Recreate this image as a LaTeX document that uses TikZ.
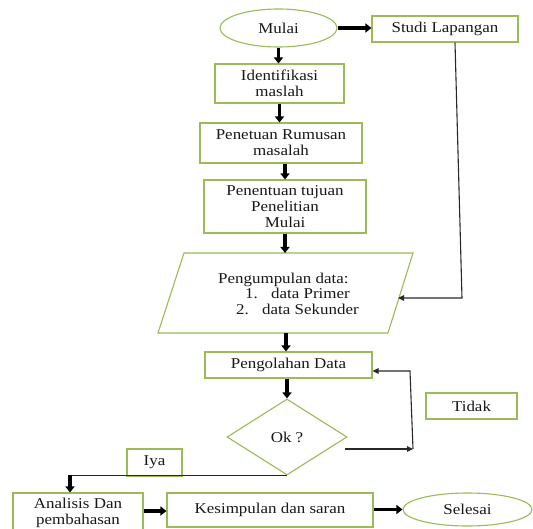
\documentclass[tikz,border=0pt]{standalone}
\usepackage{fontspec}
\setmainfont[FakeStretch=1.13]{Liberation Serif}
\usetikzlibrary{shapes.geometric,arrows.meta}
\definecolor{boxgreen}{RGB}{155,187,89}
\definecolor{linegray}{RGB}{40,40,40}
\definecolor{textdark}{RGB}{25,25,25}
\begin{document}
\begin{tikzpicture}[x=1pt,y=-1pt,
  every node/.style={font=\fontsize{15}{16}\selectfont, align=center, inner sep=0pt, text=textdark},
  gbox/.style={draw=boxgreen, line width=1.1pt, rectangle},
  gell/.style={draw=boxgreen, line width=1.1pt, ellipse},
  gdia/.style={draw=boxgreen, line width=1.1pt, diamond},
  bigarrow/.style={line width=3.5pt, draw=black, -{Triangle[width=9pt,length=6pt]}},
  thinarrow/.style={line width=1.1pt, draw=linegray, -{Triangle[width=5.5pt,length=6pt]}},
  thinline/.style={line width=1.1pt, draw=linegray},
]
\fill[white] (0,0) rectangle (533,529);
\clip (0,0) rectangle (533,529);

% nodes
\node[gell, minimum width=117, minimum height=38] (mulai) at (278.5,28) {Mulai};
\node[gbox, minimum width=146, minimum height=26] (studi) at (445,29) {Studi Lapangan};
\node[gbox, minimum width=129, minimum height=39] (ident) at (279.5,83.5) {Identifikasi\\maslah};
\node[gbox, minimum width=162, minimum height=40] (rumus) at (281,143) {Penetuan Rumusan\\masalah};
\node[gbox, minimum width=162, minimum height=53] (tujuan) at (285,206.5) {Penentuan tujuan\\Penelitian\\Mulai};

% parallelogram
\draw[draw=boxgreen, line width=1.1pt] (184,253) -- (413,253) -- (388,333) -- (158,333) -- cycle;
\coordinate (kumpulN) at (286,253);
\coordinate (kumpulS) at (286,333);
\coordinate (kumpulE) at (398,298);
\node[anchor=base west] (t1) at (218,284) {Pengumpulan data:};
\node[anchor=base west] (t2a) at (245,299) {1.};
\node[anchor=base west] (t2b) at (271,299) {data Primer};
\node[anchor=base west] (t3a) at (236,315) {2.};
\node[anchor=base west] (t3b) at (262,315) {data Sekunder};

\node[gbox, minimum width=167, minimum height=26] (peng) at (288.5,365) {Pengolahan Data};
\node[gdia, minimum width=120, minimum height=76] (ok) at (287,437) {Ok ?};
\node[gbox, minimum width=91, minimum height=26] (tidak) at (471.5,406) {Tidak};
\node[gbox, minimum width=55, minimum height=27] (iya) at (154.5,462.5) {Iya};
\node[gbox, minimum width=130, minimum height=40] (anal) at (78,513) {Analisis Dan\\pembahasan};
\node[gbox, minimum width=206, minimum height=34] (kesim) at (270,510) {Kesimpulan dan saran};
\node[gell, minimum width=129, minimum height=33] (sel) at (467.5,509.5) {Selesai};

% connectors
\draw[bigarrow] (mulai.east) -- (mulai.east -| studi.west);
\draw[bigarrow] (mulai.south) -- (mulai.south |- ident.north);
\draw[bigarrow] (ident.south) -- (ident.south |- rumus.north);
\draw[bigarrow] (tujuan.north |- rumus.south) -- (tujuan.north);
\draw[bigarrow] (tujuan.south) -- (tujuan.south |- kumpulN);
\draw[bigarrow] (kumpulS) -- (kumpulS |- peng.north);
\draw[bigarrow] (peng.south -| ok.north) -- (ok.north);

\coordinate (s1) at (462,298);
\draw[thinarrow] ([xshift=10pt]studi.south) -- (s1) -- (kumpulE);

\coordinate (o1) at (345,449);
\coordinate (l1) at (413,449);
\coordinate (l2) at (410,371);
\draw[thinarrow] (o1) -- (l1);
\draw[thinarrow] (l1) -- (l2) -- (l2 -| peng.east);

\coordinate (a1) at (70,475);
\draw[thinline] (ok.south) -- (ok.south -| a1);
\draw[bigarrow] (a1) -- (a1 |- anal.north);

\coordinate (m1) at (150,511);
\draw[bigarrow] (m1 -| anal.east) -- (m1 -| kesim.west);
\draw[bigarrow] (kesim.east |- sel.west) -- (sel.west);
\end{tikzpicture}
\end{document}
